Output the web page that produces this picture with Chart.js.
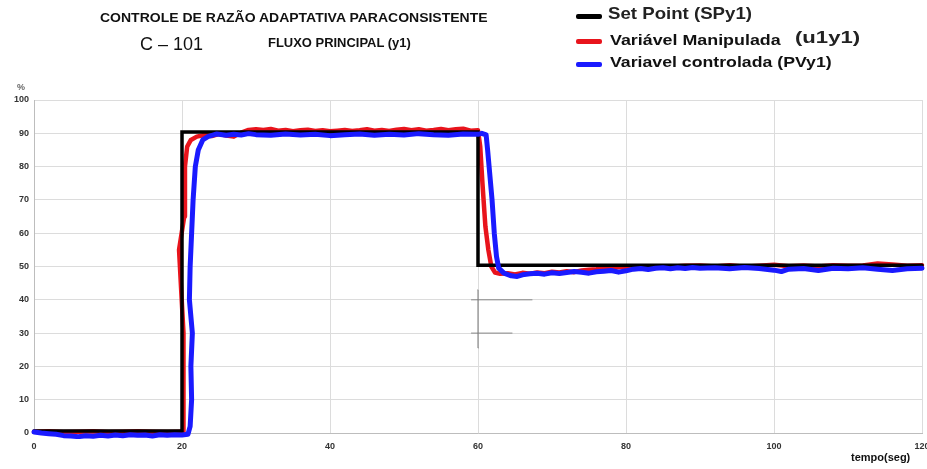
<!DOCTYPE html>
<html>
<head>
<meta charset="utf-8">
<script src="https://cdn.jsdelivr.net/npm/chart.js@4.4.0/dist/chart.umd.min.js"></script>
<style>
  body{margin:0;background:#fff;font-family:"Liberation Sans",Arial,sans-serif;}
  #wrap{position:relative;width:927px;height:469px;overflow:hidden;}
  canvas{position:absolute;left:0;top:0;}
  .t{position:absolute;white-space:nowrap;color:#111;transform-origin:0 50%;}
  .sw{position:absolute;height:5px;width:26px;border-radius:2px;}
</style>
</head>
<body>
<div id="wrap">
  <canvas id="c" width="927" height="469"></canvas>
  <div class="t" style="left:100px;top:11px;font-size:12.5px;font-weight:bold;transform:scaleX(1.12);">CONTROLE DE RAZÃO ADAPTATIVA PARACONSISTENTE</div>
  <div class="t" style="left:140px;top:34px;font-size:18px;">C – 101</div>
  <div class="t" style="left:268px;top:36px;font-size:12px;font-weight:bold;transform:scaleX(1.08);">FLUXO PRINCIPAL (y1)</div>

  <div class="sw" style="left:576px;top:14px;background:#000;"></div>
  <div class="t" style="left:608px;top:4px;font-size:16.5px;font-weight:bold;color:#222;transform:scaleX(1.13);">Set Point (SPy1)</div>
  <div class="sw" style="left:576px;top:39px;background:#e8141c;"></div>
  <div class="t" style="left:610px;top:31px;font-size:15px;font-weight:bold;transform:scaleX(1.19);">Variável Manipulada</div>
  <div class="t" style="left:795px;top:28px;font-size:17px;font-weight:bold;color:#222;transform:scaleX(1.3);">(u1y1)</div>
  <div class="sw" style="left:576px;top:62px;background:#1a1aff;"></div>
  <div class="t" style="left:610px;top:53px;font-size:15px;font-weight:bold;transform:scaleX(1.18);">Variavel controlada (PVy1)</div>

  <div class="t" style="left:17px;top:82px;font-size:9px;font-weight:bold;color:#666;">%</div>
  <div class="t" style="left:851px;top:451px;font-size:11px;font-weight:bold;">tempo(seg)</div>
</div>
<script>
const xTicks = [0, 20, 40, 60, 80, 100, 120];
const yTicks = [0, 10, 20, 30, 40, 50, 60, 70, 80, 90, 100];

// Set Point (SPy1)
const spX = [0, 20, 20, 60, 60, 120];
const spY = [0.6, 0.6, 90.4, 90.4, 50.4, 50.4];

// Variável Manipulada (u1y1)
const uX = [0,2,4,6,8,10,12,14,16,18,19.8,20.15,20.2,19.6,20.3,20.4,20.7,21.2,22,23,24,25,26,27,28,29,30,31,32,33,34,35,36,37,38,39,40,
  41,42,43,44,45,46,47,48,49,50,51,52,53,54,55,56,57,58,59,60,60.3,60.6,61,61.4,61.8,62.3,63,64,65,66,67,68,69,70,
  71,72,73,74,75,76,77,78,79,80,82,84,86,88,90,92,94,96,98,100,102,104,106,108,110,112,114,116,118,120];
const uY = [0.4,0.5,0.3,0.4,0.5,0.3,0.4,0.5,0.4,0.3,0.4,0.4,30,55,65,80,86,88,89,89.5,89.2,89.8,89.3,89.0,90.2,91,91.2,91,91.3,90.8,91,90.6,90.9,91.1,90.7,90.9,90.6,
  90.8,91,90.7,90.9,91.2,90.8,91,90.7,91.1,91.3,90.9,91.2,90.8,91,91.3,90.9,91.2,91.4,90.8,90.9,86,75,62,55,50,48.2,47.8,48,47.6,48.1,47.8,48.2,48,48.4,
  48.2,48.6,48.3,48.8,49,49.2,49.5,49.3,49.8,50,49.8,50.1,49.9,50.2,50.3,50,50.4,49.9,50.2,50.5,50.1,50.3,50,50.4,50.2,50.3,50.9,50.6,50.2,50.4];

// Variavel controlada (PVy1)
const pvX = [0,1,2,3,4,5,6,7,8,9,10,11,12,13,14,15,16,17,18,19,20,20.8,21.1,21.3,21.2,21.4,21.0,21.1,21.3,21.5,21.8,22.2,22.8,23.5,24.7,26,27,28,29,30,
  32,34,36,38,40,42,44,46,48,50,52,54,56,58,60,60.5,61.1,61.3,61.5,61.9,62.2,62.5,62.8,63.5,64.5,65.3,66,67,68,69,70,
  71,72,73,74,75,76,77,78,79,80,81,82,83,84,85,86,87,88,89,90,92,94,96,98,100,101,102,104,106,108,110,112,114,116,118,120];
const pvY = [0.3,0,-0.2,-0.4,-0.8,-0.9,-1.1,-0.8,-1,-0.7,-0.9,-0.6,-0.8,-0.5,-0.7,-0.6,-0.9,-0.5,-0.7,-0.5,-0.6,-0.4,2,10,20,30,40,50,60,70,80,85,88,89,89.8,89.4,89.7,89.5,89.9,89.6,
  89.4,89.8,89.5,89.7,89.3,89.6,89.8,89.4,89.7,89.5,89.9,89.6,89.4,89.8,89.7,90,89.5,85,80,70,60,53,49.5,48,47.2,47,47.5,47.8,48,47.7,48.1,
  47.9,48.2,48.5,48.3,48,48.4,48.6,48.8,48.3,48.7,49.2,49.4,49.1,49.5,49.6,49.3,49.6,49.4,49.7,49.5,49.6,49.3,49.7,49.4,48.9,48.5,49.2,49.4,48.8,49.5,49.3,49.6,49.2,48.8,49.3,49.5];

// stray marks near t=60
const markAX = [60, 60], markAY = [25.5, 43];
const markBX = [59.1, 67.3], markBY = [40, 40];
const markCX = [59.1, 64.6], markCY = [30, 30];

function pts(xs, ys){ return xs.map((x,i)=>({x:x, y:ys[i]})); }

new Chart(document.getElementById('c'), {
  type:'line',
  data:{ datasets:[
    { label:'Variavel controlada (PVy1)', data:pts(pvX,pvY), borderColor:'#1a1aff', borderWidth:5, order:0, clip:6 },
    { label:'Set Point (SPy1)', data:pts(spX,spY), borderColor:'#000', borderWidth:3.5, order:1, borderJoinStyle:'miter', clip:6 },
    { label:'Variável Manipulada (u1y1)', data:pts(uX,uY), borderColor:'#e8141c', borderWidth:4.5, order:2, clip:6 },
    { label:'a', data:pts(markAX,markAY), borderColor:'#777', borderWidth:1, order:3 },
    { label:'b', data:pts(markBX,markBY), borderColor:'#888', borderWidth:1, order:3 },
    { label:'c', data:pts(markCX,markCY), borderColor:'#888', borderWidth:1, order:3 }
  ]},
  options:{
    responsive:false, animation:false,
    layout:{ padding:{ top:100, right:5, left:0, bottom:0 } },
    elements:{ point:{ radius:0 }, line:{ tension:0, borderCapStyle:'round', borderJoinStyle:'round' } },
    plugins:{ legend:{ display:false }, tooltip:{ enabled:false } },
    scales:{
      x:{ type:'linear', min:0, max:120,
          afterBuildTicks:(s)=>{ s.ticks = xTicks.map(v=>({value:v})); },
          afterFit:(s)=>{ s.height = 36; s.paddingLeft = 0; s.paddingRight = 0; },
          grid:{ color:'#dcdcdc', drawTicks:false },
          border:{ color:'#bdbdbd' },
          ticks:{ padding:8, color:'#333', font:{ size:9, weight:'bold', family:'Liberation Sans' } } },
      y:{ type:'linear', min:0, max:100,
          afterBuildTicks:(s)=>{ s.ticks = yTicks.map(v=>({value:v})); },
          afterFit:(s)=>{ s.width = 34; },
          grid:{ color:'#dcdcdc', drawTicks:false },
          border:{ color:'#bdbdbd' },
          ticks:{ padding:5, color:'#333', font:{ size:9, weight:'bold', family:'Liberation Sans' } } }
    }
  }
});
</script>
</body>
</html>
